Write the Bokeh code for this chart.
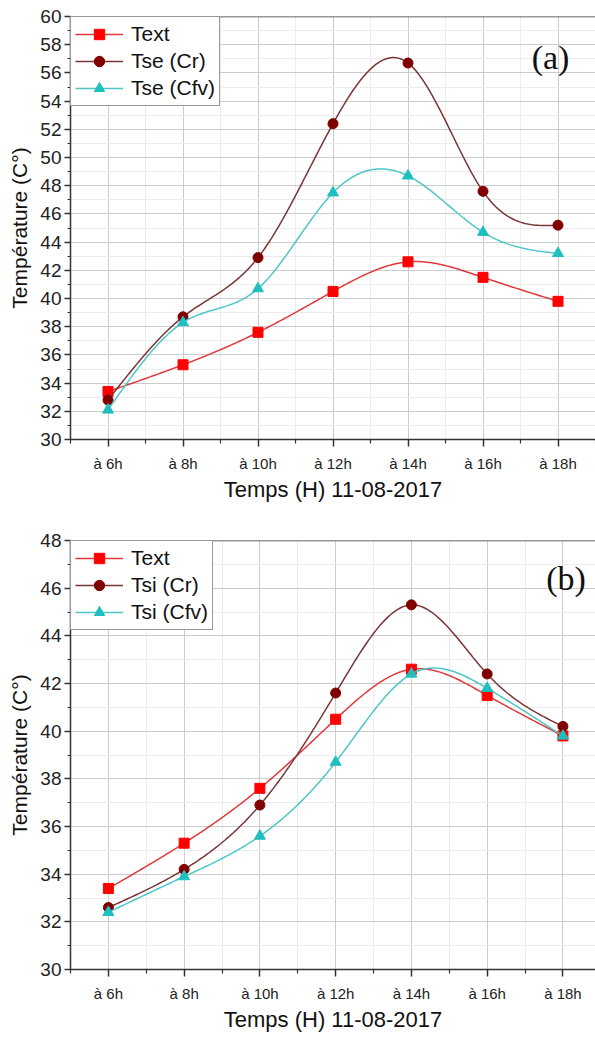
import numpy as np
from bokeh.plotting import figure
from bokeh.layouts import column
from bokeh.models import (FixedTicker, Legend, LegendItem, Label, Span)
from bokeh.embed import file_html
from bokeh.resources import INLINE

# ---------------- data ----------------
hours = ["à 6h", "à 8h", "à 10h", "à 12h", "à 14h", "à 16h", "à 18h"]

a_text = [33.4, 35.3, 37.6, 40.5, 42.6, 41.5, 39.8]
a_tse_cr = [32.8, 38.7, 42.9, 52.4, 56.7, 47.6, 45.2]
a_tse_cfv = [32.1, 38.3, 40.7, 47.5, 48.7, 44.7, 43.2]

b_text = [33.4, 35.3, 37.6, 40.5, 42.6, 41.5, 39.8]
b_tsi_cr = [32.6, 34.2, 36.9, 41.6, 45.3, 42.4, 40.2]
b_tsi_cfv = [32.4, 33.9, 35.6, 38.7, 42.4, 41.8, 39.8]

a_labels = ["Text", "Tse (Cr)", "Tse (Cfv)"]
b_labels = ["Text", "Tsi (Cr)", "Tsi (Cfv)"]

FONT = "Liberation Sans"
LINE_COLORS = ["#e0383c", "#7a3434", "#4cc6c6"]
MARK_COLORS = ["#ff0000", "#800000", "#1fbfbf"]
MARKERS = ["square", "circle", "triangle"]
MARK_SIZES = [10, 10, 11]


def natural_spline(xs, ys, n=300):
    xs = np.asarray(xs, float)
    ys = np.asarray(ys, float)
    k = len(xs)
    h = np.diff(xs)
    A = np.zeros((k, k))
    r = np.zeros(k)
    A[0, 0] = 1
    A[-1, -1] = 1
    for i in range(1, k - 1):
        A[i, i - 1] = h[i - 1]
        A[i, i] = 2 * (h[i - 1] + h[i])
        A[i, i + 1] = h[i]
        r[i] = 6 * ((ys[i + 1] - ys[i]) / h[i] - (ys[i] - ys[i - 1]) / h[i - 1])
    M = np.linalg.solve(A, r)
    xx = np.linspace(xs[0], xs[-1], n)
    yy = np.empty_like(xx)
    for j, x in enumerate(xx):
        i = min(np.searchsorted(xs, x, side="right") - 1, k - 2)
        t1 = xs[i + 1] - x
        t0 = x - xs[i]
        yy[j] = (M[i] * t1 ** 3 / (6 * h[i]) + M[i + 1] * t0 ** 3 / (6 * h[i])
                 + (ys[i] / h[i] - M[i] * h[i] / 6) * t1
                 + (ys[i + 1] / h[i] - M[i + 1] * h[i] / 6) * t0)
    return xx, yy


def make_panel(series, labels, ymin, ymax, height, border_left, border_top,
               border_bottom, xend, tag, tag_x, tag_y):
    p = figure(width=595, height=height, x_range=(-0.5, xend),
               y_range=(ymin, ymax), output_backend="svg",
               toolbar_location=None, min_border_left=border_left,
               min_border_right=0, min_border_top=border_top,
               min_border_bottom=border_bottom)
    p.outline_line_color = None
    p.background_fill_color = "white"

    idx = list(range(len(hours)))
    p.xaxis.ticker = FixedTicker(ticks=idx,
                                 minor_ticks=[i + 0.5 for i in range(-1, len(hours))])
    p.xaxis.major_label_overrides = {i: h for i, h in enumerate(hours)}
    yt = list(range(ymin, ymax + 1, 2))
    p.yaxis.ticker = FixedTicker(ticks=yt, minor_ticks=list(range(ymin, ymax + 1)))

    for ax in (p.xaxis, p.yaxis):
        ax.axis_line_color = "#333333"
        ax.axis_line_width = 1.5
        ax.major_tick_line_color = "#333333"
        ax.major_tick_line_width = 1.5
        ax.minor_tick_line_color = "#333333"
        ax.minor_tick_line_width = 1.2
        ax.major_tick_in = 0
        ax.minor_tick_in = 0
        ax.major_label_text_font = FONT
        ax.major_label_text_color = "#222222"
        ax.axis_label_text_font = FONT
        ax.axis_label_text_font_style = "normal"
        ax.axis_label_text_color = "#111111"
        ax.axis_label_text_font_size = "21px"

    p.xaxis.axis_label_text_font_size = "22px"
    p.xaxis.major_tick_out = 7
    p.xaxis.minor_tick_out = 4
    p.yaxis.major_tick_out = 6
    p.yaxis.minor_tick_out = 3
    p.xaxis.major_label_text_font_size = "15px"
    p.yaxis.major_label_text_font_size = "19px"
    p.xaxis.major_label_standoff = 8
    p.yaxis.major_label_standoff = 3
    p.xaxis.axis_label_standoff = 2
    p.yaxis.axis_label_standoff = 6
    p.xaxis.axis_label = "Temps (H) 11-08-2017"
    p.yaxis.axis_label = "Température (C°)"

    p.xgrid.ticker = p.xaxis.ticker
    p.ygrid.ticker = p.yaxis.ticker
    for g in (p.xgrid, p.ygrid):
        g.grid_line_color = "#cccccc"
        g.grid_line_width = 1
        g.minor_grid_line_color = "#ececec"
        g.minor_grid_line_width = 1

    p.add_layout(Span(location=ymax, dimension="width", line_color="#333333",
                      line_width=1.5))

    items = []
    for k, ys in enumerate(series):
        xx, yy = natural_spline(idx, ys)
        lr = p.line(xx, yy, line_color=LINE_COLORS[k], line_width=1.5)
        sr = p.scatter(idx, ys, marker=MARKERS[k], size=MARK_SIZES[k],
                       fill_color=MARK_COLORS[k], line_color=MARK_COLORS[k])
        items.append(LegendItem(label=labels[k], renderers=[lr, sr]))

    leg = Legend(items=items, location="top_left", margin=0, padding=4,
                 spacing=1, glyph_width=48, glyph_height=26, label_height=26,
                 label_standoff=8, label_text_font=FONT,
                 label_text_font_size="21px", label_text_color="#111111",
                 border_line_color="#333333", border_line_width=1,
                 background_fill_alpha=1.0)
    p.add_layout(leg)

    p.add_layout(Label(x=tag_x, y=tag_y, text=tag, text_font="Liberation Serif",
                       text_font_size="34px", text_align="center",
                       text_baseline="middle", text_color="#111111"))
    return p


pa = make_panel([a_text, a_tse_cr, a_tse_cfv], a_labels, 30, 60, 504, 70, 16,
                65, 6.5, "(a)", 5.9, 57.1)
pb = make_panel([b_text, b_tsi_cr, b_tsi_cfv], b_labels, 30, 48, 530, 68, 36,
                65, 6.43, "(b)", 6.04, 46.4)

layout = column(pa, pb, spacing=0)
open("out.html", "w").write(file_html(layout, INLINE))
